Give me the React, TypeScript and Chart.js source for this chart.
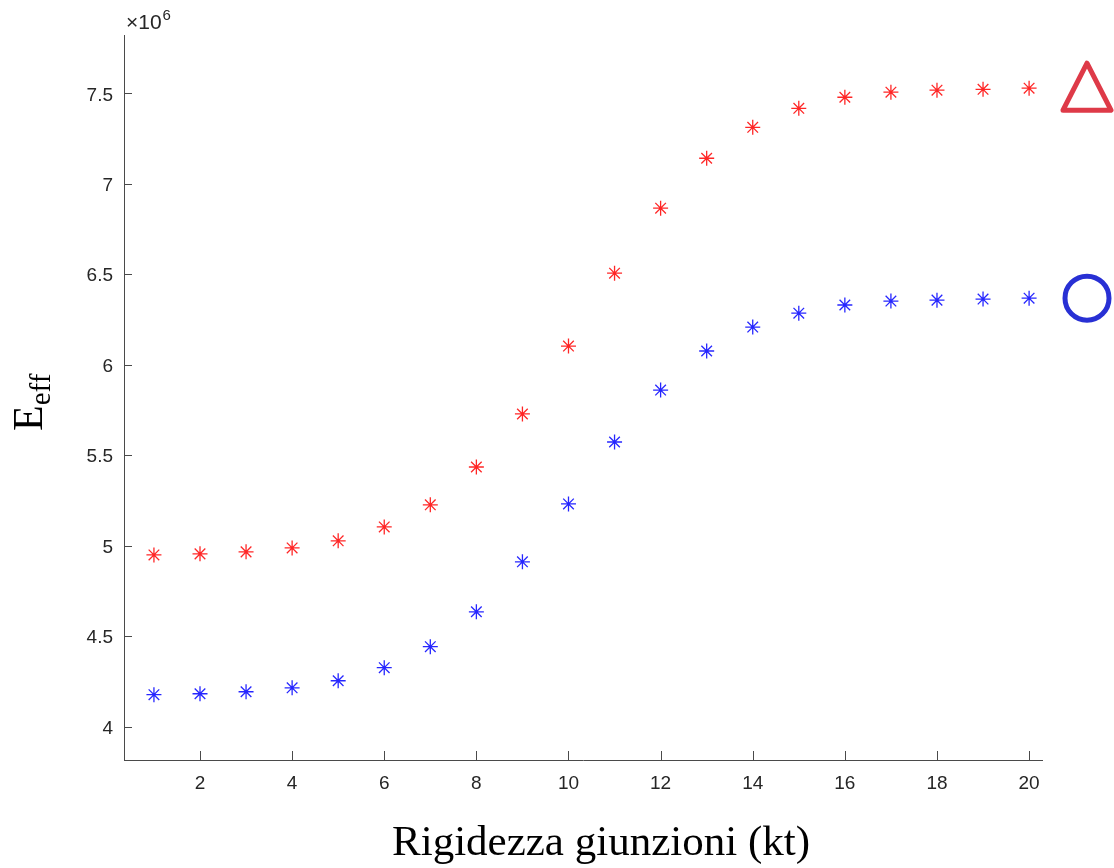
import React, { useEffect, useRef } from "react";
import { Chart, registerables } from "chart.js";

Chart.register(...registerables);

// Values in units of 10^6
const kt = [1, 2, 3, 4, 5, 6, 7, 8, 9, 10, 11, 12, 13, 14, 15, 16, 17, 18, 19, 20];
const redValues = [4.949, 4.955, 4.966, 4.988, 5.027, 5.104, 5.226, 5.435, 5.728, 6.103, 6.506, 6.865, 7.141, 7.312, 7.417, 7.478, 7.506, 7.517, 7.522, 7.528];
const blueValues = [4.177, 4.182, 4.193, 4.215, 4.254, 4.326, 4.442, 4.635, 4.911, 5.231, 5.573, 5.86, 6.076, 6.208, 6.285, 6.33, 6.352, 6.357, 6.363, 6.368];
const xTickValues = [2, 4, 6, 8, 10, 12, 14, 16, 18, 20];
const yTickValues = [4, 4.5, 5, 5.5, 6, 6.5, 7, 7.5];
const xTitle = "Rigidezza giunzioni (kt)";
const yTitleMain = "E";
const yTitleSub = "eff";
const exponentBase = "\u00d710";
const exponentPower = "6";

const AXIS_COLOR = "#4a4a4a";
const TEXT_COLOR = "#262626";
const SANS = '"Liberation Sans", Helvetica, Arial, sans-serif';
const SERIF = '"Liberation Serif", "Times New Roman", Times, serif';

const decorPlugin = {
  id: "decor",
  afterDraw(chart: any) {
    const { ctx, chartArea, scales } = chart;
    const xs = scales.x;
    const ys = scales.y;
    ctx.save();
    // inward ticks
    ctx.strokeStyle = AXIS_COLOR;
    ctx.lineWidth = 1;
    ctx.beginPath();
    for (const v of yTickValues) {
      const py = Math.round(ys.getPixelForValue(v)) + 0.5;
      ctx.moveTo(chartArea.left, py);
      ctx.lineTo(chartArea.left + 8, py);
    }
    for (const v of xTickValues) {
      const px = Math.round(xs.getPixelForValue(v)) + 0.5;
      ctx.moveTo(px, chartArea.bottom);
      ctx.lineTo(px, chartArea.bottom - 9);
    }
    ctx.stroke();

    // exponent
    ctx.fillStyle = TEXT_COLOR;
    ctx.textBaseline = "alphabetic";
    ctx.textAlign = "left";
    ctx.font = `21px ${SANS}`;
    const ex = chartArea.left + 2;
    ctx.fillText(exponentBase, ex, 29);
    const w1 = ctx.measureText(exponentBase).width;
    ctx.font = `15px ${SANS}`;
    ctx.fillText(exponentPower, ex + w1 + 1, 20);

    // y title with subscript
    ctx.fillStyle = "#000";
    ctx.save();
    ctx.translate(42, 431);
    ctx.rotate(-Math.PI / 2);
    ctx.font = `42px ${SERIF}`;
    ctx.fillText(yTitleMain, 0, 0);
    const wE = ctx.measureText(yTitleMain).width;
    ctx.font = `29px ${SERIF}`;
    ctx.fillText(yTitleSub, wE, 8);
    ctx.restore();

    // x title
    ctx.font = `43px ${SERIF}`;
    ctx.textAlign = "center";
    ctx.fillText(xTitle, (chartArea.left + chartArea.right) / 2 + 18, 855);

    // series symbols at right
    const cx = chartArea.right + 45;
    const ry = ys.getPixelForValue(redValues[redValues.length - 1]);
    ctx.lineJoin = "round";
    ctx.lineWidth = 5;
    ctx.strokeStyle = "rgb(222,58,72)";
    ctx.beginPath();
    ctx.moveTo(cx, ry - 25);
    ctx.lineTo(cx + 24, ry + 22);
    ctx.lineTo(cx - 24, ry + 22);
    ctx.closePath();
    ctx.stroke();

    const by = ys.getPixelForValue(blueValues[blueValues.length - 1]);
    ctx.strokeStyle = "rgb(40,48,212)";
    ctx.beginPath();
    ctx.arc(cx, by, 22, 0, Math.PI * 2);
    ctx.stroke();
    ctx.restore();
  },
};

export default function App() {
  const ref = useRef<HTMLCanvasElement | null>(null);
  useEffect(() => {
    document.body.style.margin = "0";
    if (!ref.current) return;
    const chart = new Chart(ref.current, {
      type: "scatter",
      data: {
        datasets: [
          {
            label: "red",
            data: kt.map((x, i) => ({ x, y: redValues[i] })),
            pointStyle: "star",
            radius: 7.5,
            borderColor: "rgba(255,0,0,0.85)",
            backgroundColor: "rgba(255,0,0,0.85)",
            borderWidth: 1.3,
            showLine: false,
          },
          {
            label: "blue",
            data: kt.map((x, i) => ({ x, y: blueValues[i] })),
            pointStyle: "star",
            radius: 7.5,
            borderColor: "rgba(0,0,255,0.85)",
            backgroundColor: "rgba(0,0,255,0.85)",
            borderWidth: 1.3,
            showLine: false,
          },
        ],
      },
      options: {
        responsive: false,
        animation: false,
        events: [],
        layout: { padding: { top: 35, right: 72, left: 0, bottom: 0 } },
        plugins: { legend: { display: false }, tooltip: { enabled: false } },
        scales: {
          x: {
            type: "linear",
            min: 0.35,
            max: 20.28,
            afterFit: (s: any) => {
              s.height = 108;
            },
            afterBuildTicks: (s: any) => {
              s.ticks = xTickValues.map((v) => ({ value: v }));
            },
            grid: { display: true, drawOnChartArea: false, drawTicks: false },
            border: { display: true, color: AXIS_COLOR, width: 1 },
            ticks: {
              padding: 12,
              color: TEXT_COLOR,
              font: { family: SANS, size: 19 },
              maxRotation: 0,
              autoSkip: false,
              callback: (v: any) => String(v),
            },
          },
          y: {
            type: "linear",
            min: 3.816,
            max: 7.822,
            afterFit: (s: any) => {
              s.width = 124;
            },
            afterBuildTicks: (s: any) => {
              s.ticks = yTickValues.map((v) => ({ value: v }));
            },
            grid: { display: true, drawOnChartArea: false, drawTicks: false },
            border: { display: true, color: AXIS_COLOR, width: 1 },
            ticks: {
              padding: 11,
              labelOffset: 2,
              color: TEXT_COLOR,
              font: { family: SANS, size: 19 },
              autoSkip: false,
              callback: (v: any) => String(v),
            },
          },
        },
      },
      plugins: [decorPlugin],
    });
    return () => chart.destroy();
  }, []);
  return (
    <div style={{ width: 1114, height: 868, background: "#fff" }}>
      <canvas ref={ref} width={1114} height={868} style={{ display: "block" }} />
    </div>
  );
}
